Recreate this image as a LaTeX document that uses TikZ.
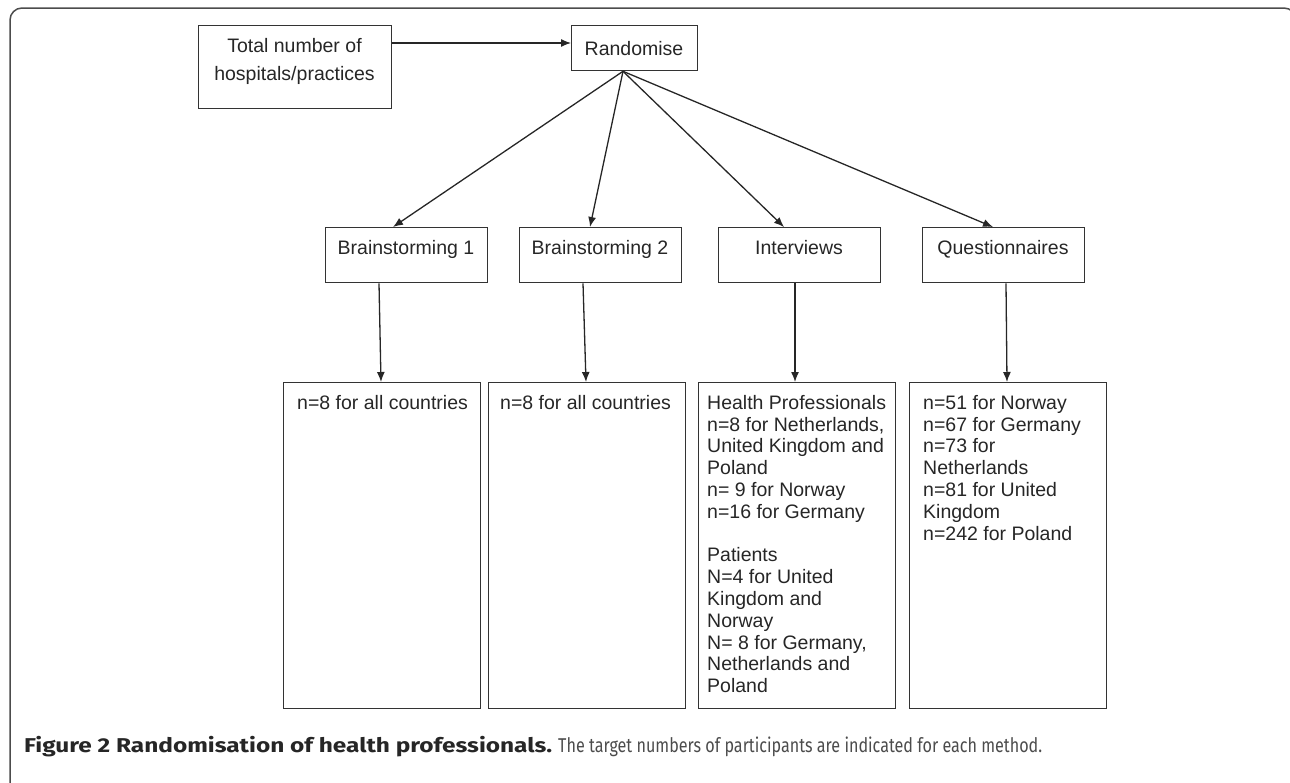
\documentclass[tikz,border=0pt]{standalone}
\usepackage{fontspec}
\setmainfont{Liberation Sans}
\newfontfamily\capfont{Fira Sans}
\usetikzlibrary{arrows.meta}
\begin{document}
\begin{tikzpicture}[x=1pt,y=-1pt,
  ln/.style={draw=black!85, line width=1.3pt},
  arr/.style={ln, -{Latex[length=10pt,width=8pt]}},
  bx/.style={draw=black!80, line width=1.3pt, inner sep=0pt, anchor=north west},
  tx/.style={font=\fontsize{19.5}{21.8}\selectfont, inner sep=0pt, text=black!85},
]
\useasboundingbox (0,0) rectangle (1290,782);
\begin{scope}
\clip (0,0) rectangle (1290,782);
\draw[draw=black!70, line width=1.5pt, rounded corners=12pt] (10,8) rectangle (1296,800);
\end{scope}

% top row
\node[bx, minimum width=193, minimum height=83] (total) at (198,25) {};
\node[tx, align=center, anchor=north, font=\fontsize{19.5}{28}\selectfont] (totalt) at (294.5,38) {Total number of\\hospitals/practices};
\node[bx, minimum width=126, minimum height=45] (rand) at (571,25) {};
\node[tx, anchor=base] (randt) at (634,55) {Randomise};

% middle row
\node[bx, minimum width=162, minimum height=55] (b1) at (325,227) {};
\node[bx, minimum width=162, minimum height=55] (b2) at (519,227) {};
\node[bx, minimum width=162, minimum height=55] (iv) at (718,227) {};
\node[bx, minimum width=162, minimum height=55] (qu) at (922,227) {};
\node[tx, anchor=base] (b1t) at (406,254) {Brainstorming 1};
\node[tx, anchor=base] (b2t) at (600,254) {Brainstorming 2};
\node[tx, anchor=base] (ivt) at (799,254) {Interviews};
\node[tx, anchor=base] (qut) at (1003,254) {Questionnaires};

% lower row
\node[bx, minimum width=197, minimum height=326] (l1) at (283,382) {};
\node[bx, minimum width=197, minimum height=326] (l2) at (488,382) {};
\node[bx, minimum width=197, minimum height=326] (l3) at (698,382) {};
\node[bx, minimum width=197, minimum height=326] (l4) at (909,382) {};
\node[tx, anchor=base west] (l1t) at (297,409) {n=8 for all countries};
\node[tx, anchor=base west] (l2t) at (500,409) {n=8 for all countries};
\node[tx, anchor=north west, align=left] (l3t) at (707,395) {Health Professionals\\n=8 for Netherlands,\\United Kingdom and\\Poland\\n= 9 for Norway\\n=16 for Germany\\[21.8pt]Patients\\N=4 for United\\Kingdom and\\Norway\\N= 8 for Germany,\\Netherlands and\\Poland};
\node[tx, anchor=north west, align=left] (l4t) at (923,395) {n=51 for Norway\\n=67 for Germany\\n=73 for\\Netherlands\\n=81 for United\\Kingdom\\n=242 for Poland};

% connectors
\draw[arr] ([yshift=-18pt]total.north east) -- ([yshift=-18pt]rand.north west);
\coordinate (fan) at ([xshift=52pt]rand.south west);
\draw[arr] (fan) -- ([xshift=68pt]b1.north west);
\draw[arr] (fan) -- ([xshift=71pt]b2.north west);
\draw[arr] (fan) -- ([xshift=66pt]iv.north west);
\draw[arr] (fan) -- ([xshift=71pt]qu.north west);
\draw[arr] ([xshift=54pt]b1.south west) -- ([xshift=98pt]l1.north west);
\draw[arr] ([xshift=64pt]b2.south west) -- ([xshift=98pt]l2.north west);
\draw[arr] ([xshift=77pt]iv.south west) -- ([xshift=97pt]l3.north west);
\draw[arr] ([xshift=84pt]qu.south west) -- ([xshift=98pt]l4.north west);

% caption
\node[anchor=base west, inner sep=0pt, font=\capfont\fontsize{20}{22}\selectfont] (cap) at (24,752)
  {\textcolor{black!85}{\resizebox{528pt}{\height}{\bfseries Figure 2 Randomisation of health professionals.}}\hspace{6pt}\textcolor{black!70}{\resizebox{484pt}{\height}{The target numbers of participants are indicated for each method.}}};
\end{tikzpicture}
\end{document}
